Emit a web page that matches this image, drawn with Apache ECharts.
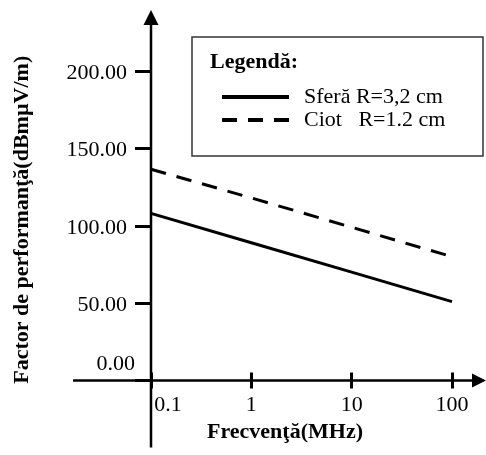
<!DOCTYPE html>
<html>
<head>
<meta charset="utf-8">
<script src="https://cdn.jsdelivr.net/npm/echarts@6/dist/echarts.min.js"></script>
<style>
  html, body { margin: 0; padding: 0; background: #fff; }
  #chart { width: 486px; height: 455px; }
</style>
</head>
<body>
<div id="chart"></div>
<script>
// data
const frequencies = [0.1, 1, 10, 100];
const sferaValues = [108, 89, 70, 51];
const ciotValues = [136.5, 118, 99, 80];
const seriesNames = ['Sferă R=3,2 cm', 'Ciot   R=1.2 cm'];
const yTicks = [0, 50, 100, 150, 200];

const font = "'Liberation Serif', 'Times New Roman', serif";
const dash = [15.5, 11];
const pair = (xs, ys) => xs.map((x, i) => [x, ys[i]]);

const chart = echarts.init(document.getElementById('chart'));

chart.setOption({
  animation: false,
  grid: { left: 151, right: 34, top: 71, bottom: 74.5 },
  legend: {
    orient: 'vertical',
    left: 220,
    top: 86,
    padding: 0,
    itemGap: 1,
    itemWidth: 67,
    itemHeight: 14,
    itemStyle: { opacity: 0 },
    lineStyle: { width: 4 },
    data: [
      { name: seriesNames[0], lineStyle: { width: 4 } },
      { name: seriesNames[1], lineStyle: { width: 4, type: [15, 11] } }
    ],
    formatter: '{t|{name}}',
    textStyle: {
      color: '#000', fontFamily: font, fontSize: 22,
      rich: { t: { padding: [0, 0, 0, 10], color: '#000', fontFamily: font, fontSize: 22, lineHeight: 22 } }
    }
  },
  xAxis: {
    type: 'log',
    logBase: 10,
    min: frequencies[0],
    max: frequencies[frequencies.length - 1],
    offset: -8,
    axisLine: { show: false, onZero: false },
    axisTick: { length: 16, lineStyle: { color: '#000', width: 3 } },
    splitLine: { show: false },
    axisLabel: {
      margin: 22,
      color: '#000', fontFamily: font, fontSize: 22,
      formatter: v => v === frequencies[0] ? '{o|' + v + '}' : String(v),
      rich: { o: { padding: [0, 0, 0, 34], color: '#000', fontFamily: font, fontSize: 22 } }
    },
    name: 'Frecvenţă(MHz)',
    nameLocation: 'middle',
    nameGap: 48,
    nameTextStyle: { color: '#000', fontFamily: font, fontSize: 22, fontWeight: 'bold', padding: [0, 33, 0, 0] }
  },
  yAxis: {
    type: 'value',
    min: yTicks[0],
    max: yTicks[yTicks.length - 1],
    interval: yTicks[1] - yTicks[0],
    axisLine: { show: false },
    axisTick: { length: 16, lineStyle: { color: '#000', width: 3 } },
    splitLine: { show: false },
    axisLabel: {
      margin: 16,
      formatter: v => v === 0 ? '{z|0.00}' : '{n|' + v.toFixed(2) + '}',
      rich: {
        z: { padding: [0, 0, 32, 0], color: '#000', fontFamily: font, fontSize: 22 },
        n: { padding: [4, 8, 0, 0], color: '#000', fontFamily: font, fontSize: 22 }
      }
    },
    name: 'Factor de performanţă(dBmµV/m)',
    nameLocation: 'middle',
    nameGap: 118,
    nameTextStyle: { color: '#000', fontFamily: font, fontSize: 22, fontWeight: 'bold', padding: [0, 0, 0, 12] }
  },
  series: [
    {
      name: seriesNames[0],
      type: 'line',
      data: pair(frequencies, sferaValues),
      symbol: 'none',
      clip: false,
      itemStyle: { color: '#000' },
      lineStyle: { color: '#000', width: 3 }
    },
    {
      name: seriesNames[1],
      type: 'line',
      data: pair(frequencies, ciotValues),
      symbol: 'none',
      clip: false,
      itemStyle: { color: '#000' },
      lineStyle: { color: '#000', width: 3, type: dash }
    }
  ]
});

// axis lines with arrows, drawn through the origin of the grid
const [ox, oy] = chart.convertToPixel({ xAxisIndex: 0, yAxisIndex: 0 }, [frequencies[0], 0]);
const axisStyle = { stroke: '#000', lineWidth: 2.5 };
chart.setOption({
  graphic: [
    { type: 'line', shape: { x1: ox - 78, y1: oy, x2: 474, y2: oy }, style: axisStyle },
    { type: 'polygon', shape: { points: [[486, oy], [472, oy - 7], [472, oy + 7]] }, style: { fill: '#000' } },
    { type: 'line', shape: { x1: ox, y1: oy + 67, x2: ox, y2: 24 }, style: axisStyle },
    { type: 'polygon', shape: { points: [[ox, 10], [ox - 7.5, 25], [ox + 7.5, 25]] }, style: { fill: '#000' } },
    // legend frame and title
    { type: 'rect', shape: { x: 192, y: 37, width: 291, height: 119 }, style: { fill: 'none', stroke: '#333', lineWidth: 1.5 }, z: 1 },
    {
      type: 'text', left: 210, top: 51,
      style: { text: 'Legendă:', fill: '#000', font: 'bold 22px ' + font }
    }
  ]
});
</script>
</body>
</html>
